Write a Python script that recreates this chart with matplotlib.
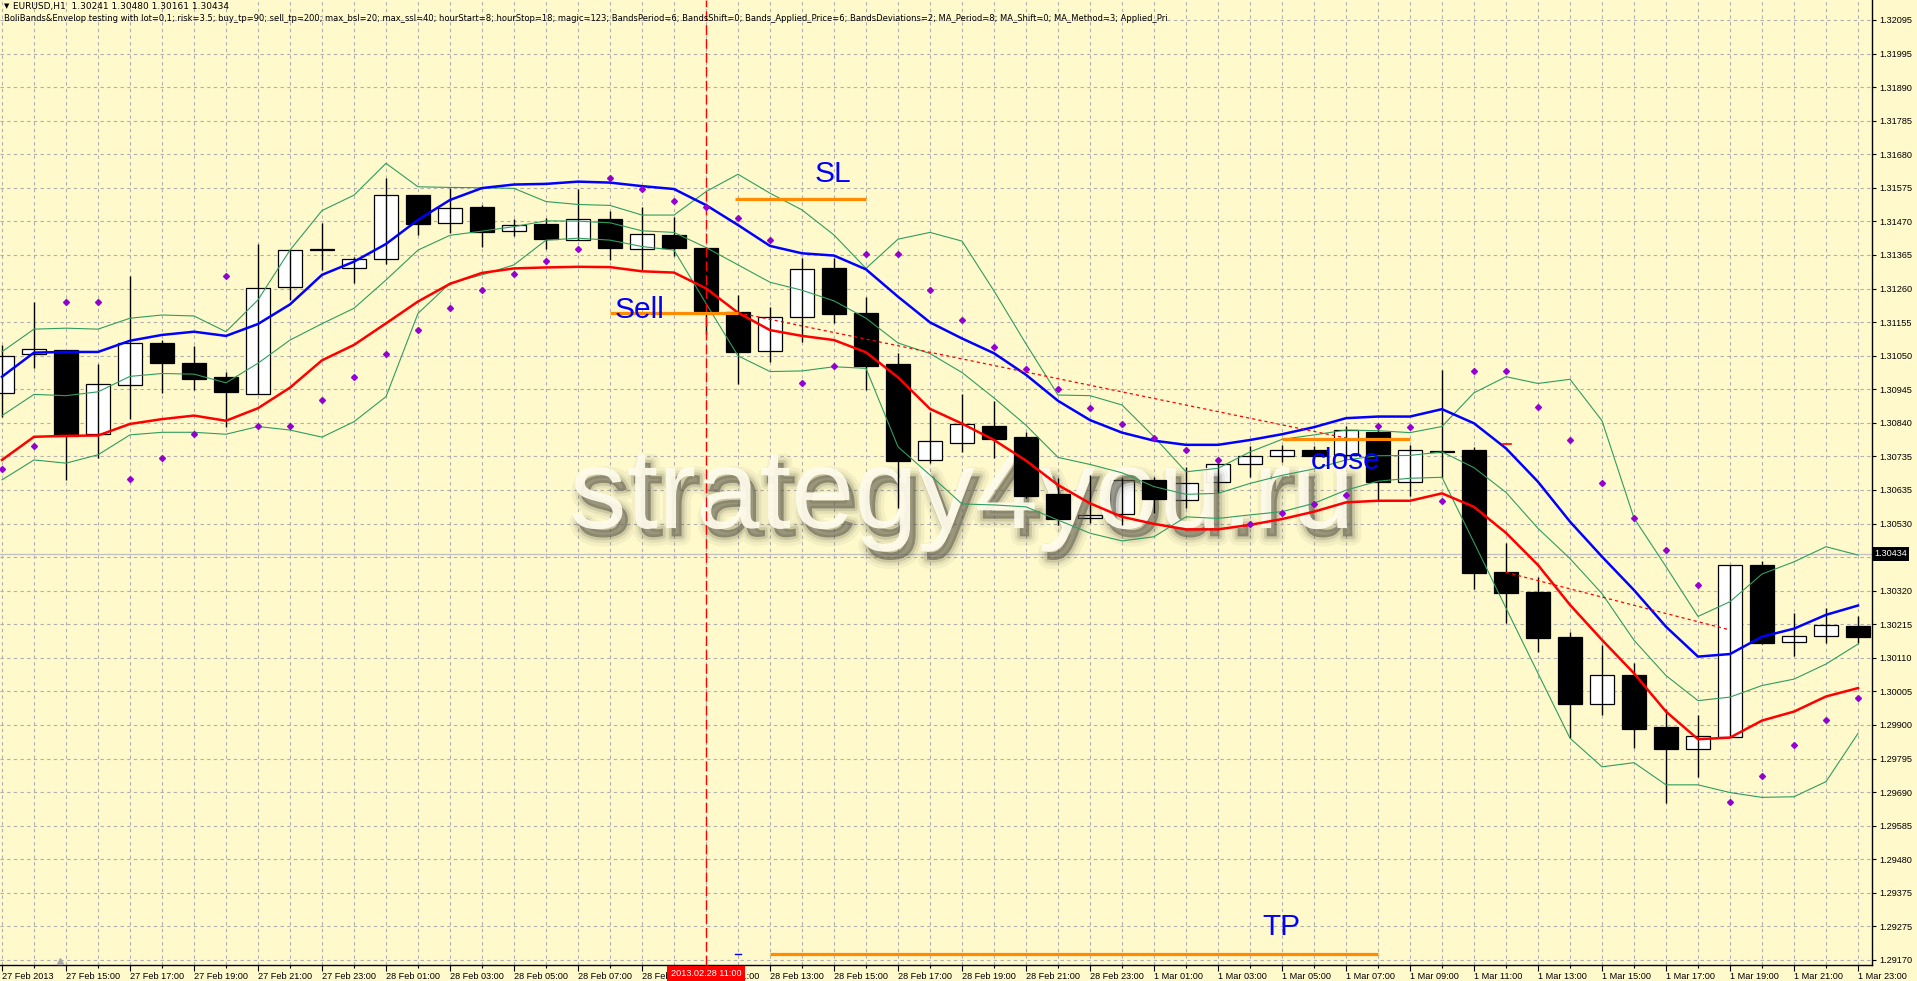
import numpy as np
import matplotlib
matplotlib.use("Agg")
import matplotlib.pyplot as plt
import matplotlib.patheffects as pe
from matplotlib.transforms import blended_transform_factory

# EURUSD H1, 27 Feb 2013 13:00 .. 1 Mar 2013 23:00 (one entry per hour)
opens = [1.30934, 1.31056, 1.31068, 1.30807, 1.30960, 1.31090, 1.31028, 1.30984, 1.30931, 1.31264,
         1.31379, 1.31323, 1.31351, 1.31550, 1.31463, 1.31513, 1.31438, 1.31460, 1.31410, 1.31476,
         1.31382, 1.31426, 1.31386, 1.31186, 1.31065, 1.31171, 1.31323, 1.31183, 1.31025, 1.30726,
         1.30779, 1.30832, 1.30797, 1.30620, 1.30545, 1.30558, 1.30664, 1.30601, 1.30657, 1.30713,
         1.30739, 1.30757, 1.30742, 1.30813, 1.30657, 1.30754, 1.30757, 1.30377, 1.30315, 1.30175,
         1.29967, 1.30057, 1.29895, 1.29827, 1.29864, 1.30399, 1.30159, 1.30178, 1.30209]
highs = [1.31084, 1.31218, 1.31068, 1.31025, 1.31298, 1.31099, 1.31081, 1.31000, 1.31398, 1.31379,
         1.31463, 1.31358, 1.31603, 1.31550, 1.31572, 1.31519, 1.31476, 1.31479, 1.31569, 1.31501,
         1.31513, 1.31482, 1.31389, 1.31239, 1.31202, 1.31355, 1.31355, 1.31233, 1.31059, 1.30875,
         1.30931, 1.30909, 1.30813, 1.30670, 1.30679, 1.30670, 1.30673, 1.30704, 1.30732, 1.30769,
         1.30773, 1.30769, 1.30832, 1.30838, 1.30773, 1.31006, 1.30766, 1.30468, 1.30362, 1.30191,
         1.30150, 1.30094, 1.29951, 1.29932, 1.30399, 1.30412, 1.30250, 1.30265, 1.30240]
lows = [1.30860, 1.31012, 1.30664, 1.30732, 1.30853, 1.30934, 1.30944, 1.30829, 1.30931, 1.31224,
        1.31317, 1.31277, 1.31336, 1.31426, 1.31432, 1.31389, 1.31423, 1.31382, 1.31410, 1.31348,
        1.31317, 1.31361, 1.31118, 1.30963, 1.31031, 1.31093, 1.31152, 1.30944, 1.30577, 1.30716,
        1.30751, 1.30732, 1.30608, 1.30524, 1.30530, 1.30524, 1.30561, 1.30577, 1.30623, 1.30673,
        1.30720, 1.30726, 1.30726, 1.30601, 1.30614, 1.30670, 1.30324, 1.30219, 1.30128, 1.29861,
        1.29932, 1.29830, 1.29658, 1.29739, 1.29864, 1.30153, 1.30116, 1.30156, 1.30156]
closes = [1.31050, 1.31071, 1.30801, 1.30963, 1.31090, 1.31028, 1.30978, 1.30938, 1.31261, 1.31379,
          1.31382, 1.31351, 1.31550, 1.31460, 1.31510, 1.31435, 1.31457, 1.31414, 1.31476, 1.31386,
          1.31429, 1.31386, 1.31190, 1.31062, 1.31171, 1.31320, 1.31180, 1.31018, 1.30723, 1.30785,
          1.30838, 1.30791, 1.30614, 1.30542, 1.30555, 1.30664, 1.30604, 1.30654, 1.30713, 1.30739,
          1.30757, 1.30739, 1.30819, 1.30657, 1.30757, 1.30751, 1.30374, 1.30312, 1.30172, 1.29967,
          1.30057, 1.29889, 1.29827, 1.29867, 1.30399, 1.30156, 1.30178, 1.30212, 1.30175]

# envelope (blue = upper, red = lower)
env_upper = [1.30985, 1.31060, 1.31062, 1.31062, 1.31097, 1.31115, 1.31125, 1.31112, 1.31149, 1.31210,
             1.31302, 1.31343, 1.31398, 1.31473, 1.31535, 1.31572, 1.31583, 1.31585, 1.31592, 1.31589,
             1.31578, 1.31569, 1.31519, 1.31457, 1.31392, 1.31369, 1.31362, 1.31319, 1.31234, 1.31154,
             1.31104, 1.31058, 1.30991, 1.30910, 1.30850, 1.30811, 1.30786, 1.30773, 1.30773, 1.30788,
             1.30806, 1.30828, 1.30856, 1.30861, 1.30861, 1.30884, 1.30840, 1.30762, 1.30658, 1.30534,
             1.30425, 1.30321, 1.30207, 1.30114, 1.30122, 1.30176, 1.30201, 1.30244, 1.30273]
env_lower = [1.30726, 1.30798, 1.30801, 1.30802, 1.30838, 1.30853, 1.30864, 1.30848, 1.30887, 1.30951,
             1.31036, 1.31084, 1.31151, 1.31219, 1.31274, 1.31308, 1.31322, 1.31325, 1.31327, 1.31326,
             1.31313, 1.31309, 1.31260, 1.31184, 1.31130, 1.31112, 1.31099, 1.31061, 1.30983, 1.30885,
             1.30839, 1.30788, 1.30724, 1.30648, 1.30591, 1.30549, 1.30527, 1.30510, 1.30510, 1.30524,
             1.30542, 1.30565, 1.30594, 1.30599, 1.30599, 1.30622, 1.30580, 1.30499, 1.30399, 1.30275,
             1.30166, 1.30062, 1.29943, 1.29857, 1.29862, 1.29915, 1.29943, 1.29990, 1.30016]

# Bollinger bands (period 6, dev 2)
bb_upper = [1.31063, 1.31133, 1.31136, 1.31133, 1.31167, 1.31177, 1.31174, 1.31125, 1.31224, 1.31379,
            1.31502, 1.31550, 1.31649, 1.31576, 1.31574, 1.31573, 1.31571, 1.31530, 1.31521, 1.31518,
            1.31488, 1.31488, 1.31561, 1.31615, 1.31556, 1.31504, 1.31426, 1.31322, 1.31413, 1.31434,
            1.31407, 1.31252, 1.31087, 1.30928, 1.30926, 1.30897, 1.30798, 1.30689, 1.30700, 1.30751,
            1.30790, 1.30804, 1.30819, 1.30817, 1.30811, 1.30830, 1.30935, 1.30985, 1.30964, 1.30977,
            1.30848, 1.30545, 1.30394, 1.30239, 1.30285, 1.30371, 1.30409, 1.30456, 1.30430]
bb_middle = [1.30864, 1.30930, 1.30926, 1.30938, 1.30986, 1.30995, 1.30993, 1.30966, 1.31027, 1.31099,
             1.31150, 1.31198, 1.31286, 1.31379, 1.31425, 1.31438, 1.31452, 1.31470, 1.31469, 1.31464,
             1.31439, 1.31434, 1.31387, 1.31333, 1.31279, 1.31254, 1.31221, 1.31167, 1.31090, 1.31057,
             1.30998, 1.30919, 1.30834, 1.30734, 1.30712, 1.30686, 1.30643, 1.30619, 1.30622, 1.30653,
             1.30678, 1.30698, 1.30726, 1.30739, 1.30740, 1.30751, 1.30702, 1.30625, 1.30513, 1.30419,
             1.30310, 1.30165, 1.30055, 1.29977, 1.29988, 1.30024, 1.30044, 1.30091, 1.30153]
bb_lower = [1.30664, 1.30726, 1.30716, 1.30742, 1.30804, 1.30812, 1.30812, 1.30806, 1.30830, 1.30819,
            1.30797, 1.30845, 1.30923, 1.31182, 1.31276, 1.31302, 1.31333, 1.31410, 1.31416, 1.31410,
            1.31390, 1.31379, 1.31213, 1.31050, 1.31001, 1.31003, 1.31016, 1.31011, 1.30767, 1.30679,
            1.30589, 1.30586, 1.30580, 1.30539, 1.30498, 1.30474, 1.30487, 1.30549, 1.30544, 1.30555,
            1.30565, 1.30591, 1.30632, 1.30660, 1.30669, 1.30672, 1.30469, 1.30265, 1.30062, 1.29860,
            1.29771, 1.29784, 1.29715, 1.29715, 1.29691, 1.29676, 1.29678, 1.29725, 1.29875]

# purple dots
dots = [1.30697, 1.30769, 1.31216, 1.31216, 1.30666, 1.30732, 1.30808, 1.31297, 1.30832, 1.30832,
        1.30913, 1.30985, 1.31055, 1.31130, 1.31198, 1.31254, 1.31304, 1.31344, 1.31382, 1.31602,
        1.31568, 1.31531, 1.31514, 1.31480, 1.31410, 1.30964, 1.31018, 1.31366, 1.31366, 1.31254,
        1.31161, 1.31077, 1.31008, 1.30946, 1.30887, 1.30837, 1.30793, 1.30756, 1.30725, 1.30527,
        1.30560, 1.30588, 1.30616, 1.30831, 1.30830, 1.30599, 1.31004, 1.31004, 1.30892, 1.30788,
        1.30655, 1.30544, 1.30445, 1.30336, 1.29661, 1.29742, 1.29838, 1.29916, 1.29986]

time_labels = ["27 Feb 2013", "27 Feb 15:00", "27 Feb 17:00", "27 Feb 19:00", "27 Feb 21:00",
               "27 Feb 23:00", "28 Feb 01:00", "28 Feb 03:00", "28 Feb 05:00", "28 Feb 07:00",
               "28 Feb 09:00", "28 Feb 11:00", "28 Feb 13:00", "28 Feb 15:00", "28 Feb 17:00",
               "28 Feb 19:00", "28 Feb 21:00", "28 Feb 23:00", "1 Mar 01:00", "1 Mar 03:00",
               "1 Mar 05:00", "1 Mar 07:00", "1 Mar 09:00", "1 Mar 11:00", "1 Mar 13:00",
               "1 Mar 15:00", "1 Mar 17:00", "1 Mar 19:00", "1 Mar 21:00", "1 Mar 23:00"]
price_labels = ["1.32095", "1.31995", "1.31890", "1.31785", "1.31680", "1.31575", "1.31470",
                "1.31365", "1.31260", "1.31155", "1.31050", "1.30945", "1.30840", "1.30735",
                "1.30635", "1.30530", "", "1.30320", "1.30215", "1.30110", "1.30005", "1.29900",
                "1.29795", "1.29690", "1.29585", "1.29480", "1.29375", "1.29275", "1.29170"]

bid = 1.30434
signal_bar = 22
sell_price, sell_span = 1.31184, (19.0, 23.0)
sl_price, sl_span = 1.31539, (22.9, 27.0)
tp_price, tp_span = 1.29190, (24.0, 43.0)
close_price, close_span = 1.30790, (40.0, 44.0)
trade1 = ([23.0, 42.06], [1.31184, 1.30793])
trade2 = ([47.0, 54.0], [1.30376, 1.30197])

header1 = "EURUSD,H1  1.30241 1.30480 1.30161 1.30434"
header2 = ("BoliBands&Envelop testing with lot=0,1; risk=3.5; buy_tp=90; sell_tp=200; max_bsl=20; "
           "max_ssl=40; hourStart=8; hourStop=18; magic=123; BandsPeriod=6; BandsShift=0; "
           "Bands_Applied_Price=6; BandsDeviations=2; MA_Period=8; MA_Shift=0; MA_Method=3; Applied_Pri")

BG = "#fff9cc"
AXFONT = dict(family="Liberation Sans", size=6.6)


def main():
    fig = plt.figure(figsize=(19.17, 9.81), dpi=100)
    fig.patch.set_facecolor(BG)
    ax = fig.add_axes([0, 16 / 981, 1872 / 1917, 965 / 981])
    ax.set_facecolor(BG)
    ax.set_axisbelow(True)

    x = np.arange(len(opens))
    o = np.array(opens); c = np.array(closes)
    h = np.array(highs); l = np.array(lows)

    ax.set_xlim(-0.0625, 58.4375)
    ax.set_ylim(1.291544, 1.321572)

    # grid / axes
    yt = np.linspace(1.32095, 1.29170, len(price_labels))
    ax.yaxis.tick_right()
    ax.set_yticks(yt, price_labels, fontfamily=AXFONT["family"], fontsize=AXFONT["size"])
    ax.set_xticks(x[::2], time_labels, ha="left", fontfamily=AXFONT["family"], fontsize=AXFONT["size"])
    ax.set_xticks(x, minor=True)
    ax.tick_params(axis="x", which="major", length=4, width=0.8, pad=1)
    ax.tick_params(axis="x", which="minor", length=2, width=0.8)
    ax.tick_params(axis="y", length=3, width=0.8, pad=2)
    grid_kw = dict(color="#b0b0b0", lw=0.8, ls=(0, (3, 3)))
    ax.grid(True, axis="x", which="both", **grid_kw)
    ax.grid(True, axis="y", which="major", **grid_kw)
    for s in ["left", "top"]:
        ax.spines[s].set_visible(False)
    for s in ["right", "bottom"]:
        ax.spines[s].set_color("black")
        ax.spines[s].set_linewidth(1.0)

    ax.axhline(bid, color="#c0c0c0", lw=0.9, zorder=1)

    # candles
    up = c >= o
    ax.vlines(x, l, h, color="black", lw=1.0, zorder=3)
    ax.bar(x[up], (c - o)[up], bottom=o[up], width=0.76, color="white",
           edgecolor="black", lw=0.9, zorder=2)
    ax.bar(x[~up], (o - c)[~up], bottom=c[~up], width=0.76, color="black",
           edgecolor="black", lw=0.9, zorder=3)

    # watermark
    shadow = "#3a3826"
    ax.text(30.0, 1.30514, "strategy4you.ru", ha="center", va="baseline",
            family="Liberation Sans", fontsize=82, color="#fffcec", alpha=0.93, zorder=2.5,
            path_effects=[pe.Stroke(offset=(4, -6), linewidth=13, foreground=shadow, alpha=0.05),
                          pe.Stroke(offset=(4, -6), linewidth=8, foreground=shadow, alpha=0.08),
                          pe.Stroke(offset=(4, -6), linewidth=4, foreground=shadow, alpha=0.14),
                          pe.SimplePatchShadow(offset=(4, -6), shadow_rgbFace=shadow, alpha=0.45),
                          pe.Normal()])

    # indicators
    ax.plot(x, bb_upper, color="#2e9e5e", lw=0.8, zorder=4)
    ax.plot(x, bb_middle, color="#2e9e5e", lw=0.8, zorder=4)
    ax.plot(x, bb_lower, color="#2e9e5e", lw=0.8, zorder=4)
    ax.plot(x, env_upper, color="#0000ff", lw=1.8, zorder=5)
    ax.plot(x, env_lower, color="#ff0000", lw=1.8, zorder=5)
    ax.plot(x, dots, ls="none", marker="D", ms=3.0, color="#9400d3", zorder=5)

    # trade objects
    ax.axvline(signal_bar, color="red", lw=1.0, ls=(0, (7, 3)), zorder=4)
    ax.plot(*trade1, color="red", lw=0.9, ls=(0, (2.5, 2.5)), zorder=5)
    ax.plot(*trade2, color="red", lw=0.9, ls=(0, (2.5, 2.5)), zorder=5)
    orange = "#ff8c00"
    for price, span in [(sell_price, sell_span), (sl_price, sl_span),
                        (tp_price, tp_span), (close_price, close_span)]:
        ax.plot(span, [price, price], color=orange, lw=2.3, zorder=6, solid_capstyle="butt")
    ax.plot([46.9, 47.15], [1.30775, 1.30775], color="red", lw=1.2, zorder=6)
    ax.plot([22.9, 23.1], [tp_price, tp_price], color="blue", lw=1.0, zorder=6)

    lbl = dict(family="Liberation Sans", fontsize=21.5, color="#0000ff", ha="left", va="center", zorder=7)
    ax.text(19.15, 1.31193, "Sell", **lbl)
    ax.text(25.4, 1.31616, "SL", **lbl)
    ax.text(39.4, 1.29273, "TP", **lbl)
    ax.text(40.9, 1.30723, "close", **lbl)

    # axis markers
    bx = blended_transform_factory(ax.transData, ax.transAxes)
    ax.text(signal_bar, -9 / 965, "2013.02.28 11:00", transform=bx, ha="center", va="center",
            color="white", clip_on=False, zorder=10, family=AXFONT["family"], fontsize=AXFONT["size"],
            bbox=dict(boxstyle="square,pad=0.35", facecolor="#ff0000", edgecolor="none"))
    ax.plot([1.81], [4 / 965], marker="^", ms=5, color="#a8a8a8", transform=bx, clip_on=False, zorder=6)
    by = blended_transform_factory(ax.transAxes, ax.transData)
    ax.text(1.0 + 2 / 1872, bid, "1.30434", transform=by, ha="left", va="center", color="white",
            clip_on=False, zorder=10, family=AXFONT["family"], fontsize=AXFONT["size"],
            bbox=dict(boxstyle="square,pad=0.25", facecolor="black", edgecolor="none"))

    # header
    fig.text(4 / 1917, 1 - 6 / 981, "\u25bc", fontsize=5, family="DejaVu Sans", va="center")
    fig.text(13 / 1917, 1 - 6 / 981, header1, fontsize=6.5, family="DejaVu Sans", va="center")
    fig.text(4 / 1917, 1 - 18.5 / 981, header2, fontsize=6.0, family="DejaVu Sans", va="center")

    fig.savefig("out.png", dpi=100, facecolor=BG)


if __name__ == "__main__":
    main()
